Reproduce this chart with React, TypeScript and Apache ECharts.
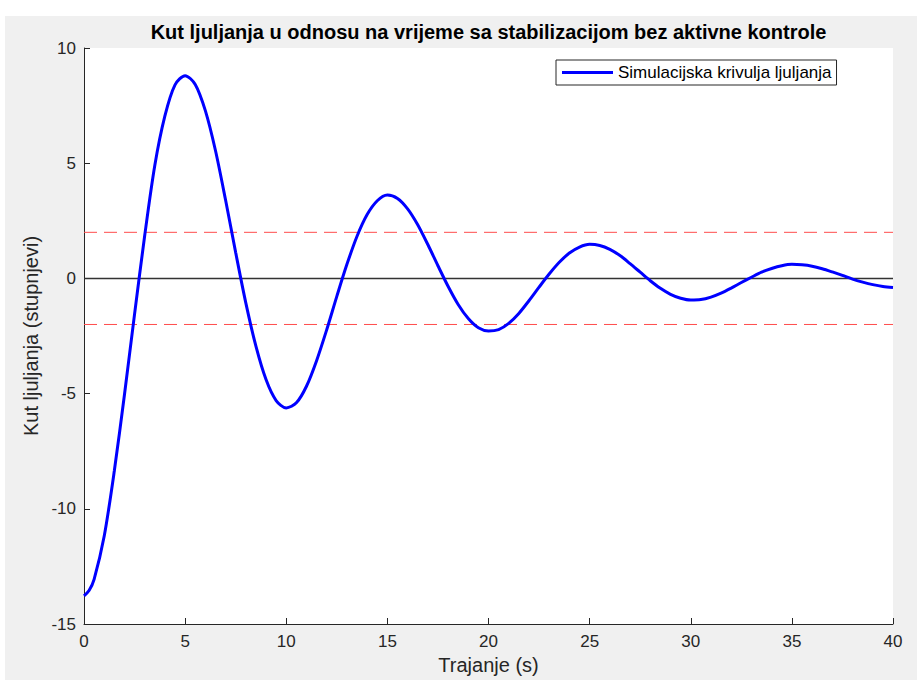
import React, { useEffect, useRef } from "react";
import * as echarts from "echarts";

const TITLE = "Kut ljuljanja u odnosu na vrijeme sa stabilizacijom bez aktivne kontrole";
const SERIES_NAME = "Simulacijska krivulja ljuljanja";
const X_NAME = "Trajanje (s)";
const Y_NAME = "Kut ljuljanja (stupnjevi)";

const timeS = [
  0, 0.25, 0.5, 1, 1.5, 2, 2.5, 3, 3.5, 4, 4.5,
  5, 5.5, 6, 6.5, 7, 7.5, 8, 8.5, 9, 9.5,
  10, 10.5, 11, 11.5, 12, 12.5, 13, 13.5, 14, 14.5,
  15, 15.5, 16, 16.5, 17, 17.5, 18, 18.5, 19, 19.5,
  20, 20.5, 21, 21.5, 22, 22.5, 23, 23.5, 24, 24.5,
  25, 25.5, 26, 26.5, 27, 27.5, 28, 28.5, 29, 29.5,
  30, 30.5, 31, 31.5, 32, 32.5, 33, 33.5, 34, 34.5,
  35, 35.5, 36, 36.5, 37, 37.5, 38, 38.5, 39, 39.5,
  40,
];

const angleDeg = [
  -13.78, -13.55, -13.06, -11.18, -8.35, -5.05, -1.55, 1.85, 4.9, 7.05, 8.4,
  8.8, 8.42, 7.28, 5.55, 3.4, 1.12, -1.06, -2.94, -4.39, -5.3,
  -5.62, -5.4, -4.68, -3.57, -2.23, -0.78, 0.61, 1.83, 2.77, 3.37,
  3.62, 3.47, 3.02, 2.33, 1.47, 0.55, -0.34, -1.13, -1.74, -2.14,
  -2.28, -2.22, -1.95, -1.52, -0.97, -0.38, 0.19, 0.7, 1.1, 1.36,
  1.48, 1.43, 1.26, 0.99, 0.64, 0.27, -0.1, -0.43, -0.69, -0.86,
  -0.94, -0.92, -0.81, -0.64, -0.42, -0.18, 0.05, 0.27, 0.43, 0.55,
  0.61, 0.59, 0.53, 0.42, 0.28, 0.13, -0.03, -0.16, -0.27, -0.35,
  -0.39,
];

const bandT = [0, 40];
const upperLimit = [2, 2];
const lowerLimit = [-2, -2];
const zeroRef = [0, 0];

const FONT = "'Liberation Sans', Arial, Helvetica, sans-serif";

export default function App() {
  const ref = useRef<HTMLDivElement>(null);

  useEffect(() => {
    if (!ref.current) return;
    const chart = echarts.init(ref.current, null, { renderer: "svg" });
    const pairs = (xs: number[], ys: number[]) => xs.map((x, i) => [x, ys[i]]);

    chart.setOption({
      animation: false,
      backgroundColor: "#f0f0f0",
      graphic: [
        { type: "rect", silent: true, shape: { x: 0, y: 0, width: 917, height: 16 }, style: { fill: "#ffffff" } },
        { type: "rect", silent: true, shape: { x: 0, y: 0, width: 5, height: 680 }, style: { fill: "#ffffff" } },
        {
          type: "text",
          x: 488.5,
          y: 32,
          style: {
            text: TITLE,
            font: `bold 20px ${FONT}`,
            fill: "#000000",
            textAlign: "center",
            textVerticalAlign: "middle",
          },
        },
      ],
      grid: {
        left: 84,
        top: 48,
        right: 24,
        bottom: 55,
        show: true,
        backgroundColor: "#ffffff",
        borderWidth: 0,
      },
      legend: {
        left: 556,
        top: 60,
        padding: [3, 5, 3, 6],
        backgroundColor: "#ffffff",
        borderColor: "#262626",
        borderWidth: 1,
        borderRadius: 0,
        itemWidth: 51,
        itemHeight: 3,
        data: [{ name: SERIES_NAME, icon: "rect" }],
        textStyle: { fontSize: 17, color: "#000000", fontFamily: FONT, lineHeight: 19 },
      },
      xAxis: {
        type: "value",
        min: 0,
        max: 40,
        interval: 5,
        axisLine: { show: true, onZero: false, lineStyle: { color: "#262626", width: 1 } },
        axisTick: { show: true, inside: true, length: 6, lineStyle: { color: "#262626" } },
        axisLabel: { color: "#262626", fontSize: 17, fontFamily: FONT, margin: 9 },
        splitLine: { show: false },
        name: X_NAME,
        nameLocation: "middle",
        nameGap: 31,
        nameTextStyle: { color: "#262626", fontSize: 20, fontFamily: FONT },
      },
      yAxis: {
        type: "value",
        min: -15,
        max: 10,
        interval: 5,
        axisLine: { show: true, onZero: false, lineStyle: { color: "#262626", width: 1 } },
        axisTick: { show: true, inside: true, length: 6, lineStyle: { color: "#262626" } },
        axisLabel: { color: "#262626", fontSize: 17, fontFamily: FONT, margin: 8 },
        splitLine: { show: false },
        name: Y_NAME,
        nameLocation: "middle",
        nameGap: 40,
        nameRotate: 90,
        nameTextStyle: { color: "#262626", fontSize: 20, fontFamily: FONT },
      },
      series: [
        {
          name: "upper",
          type: "line",
          data: pairs(bandT, upperLimit),
          symbol: "none",
          silent: true,
          lineStyle: { color: "#ff4d4d", width: 1, type: [13, 7] },
        },
        {
          name: "lower",
          type: "line",
          data: pairs(bandT, lowerLimit),
          symbol: "none",
          silent: true,
          lineStyle: { color: "#ff4d4d", width: 1, type: [13, 7] },
        },
        {
          name: "zero",
          type: "line",
          data: pairs(bandT, zeroRef),
          symbol: "none",
          silent: true,
          lineStyle: { color: "#333333", width: 1.5 },
        },
        {
          name: SERIES_NAME,
          type: "line",
          data: pairs(timeS, angleDeg),
          symbol: "none",
          smooth: 0.3,
          itemStyle: { color: "#0000ff" },
          lineStyle: { color: "#0000ff", width: 3 },
        },
      ],
    });

    return () => chart.dispose();
  }, []);

  return (
    <div
      ref={ref}
      style={{ position: "fixed", left: 0, top: 0, width: 917, height: 680 }}
    />
  );
}
